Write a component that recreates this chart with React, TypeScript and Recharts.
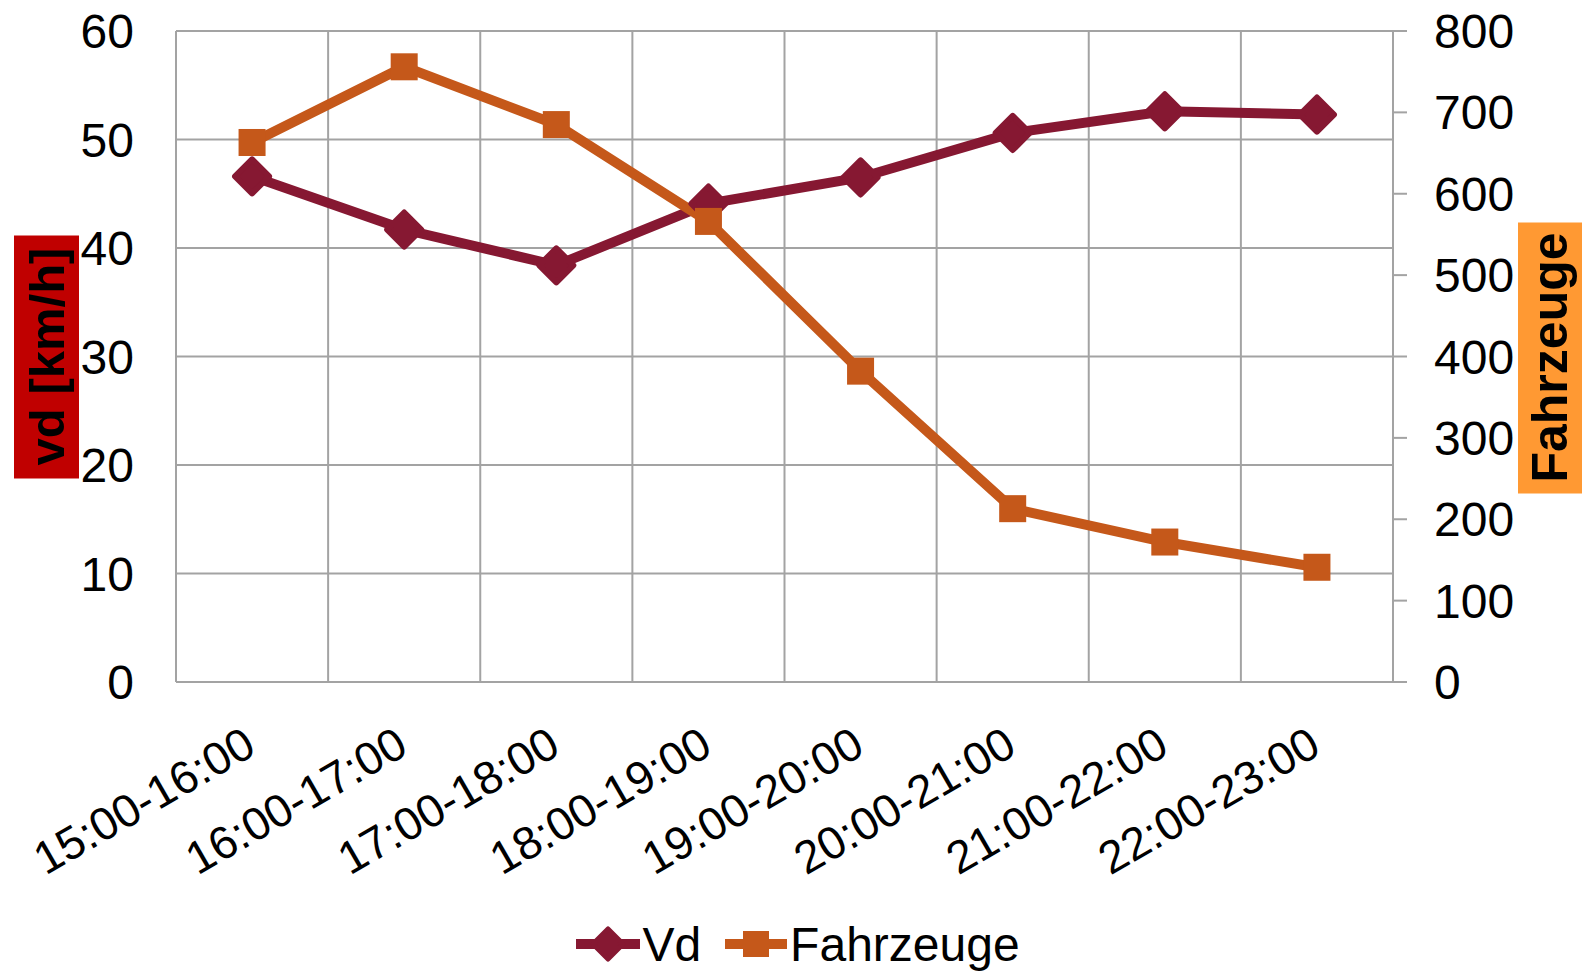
import { ComposedChart, Line, XAxis, YAxis, CartesianGrid, Legend } from "recharts";

const categories = ["15:00-16:00", "16:00-17:00", "17:00-18:00", "18:00-19:00", "19:00-20:00", "20:00-21:00", "21:00-22:00", "22:00-23:00"];
const vd = [46.6, 41.7, 38.4, 44.1, 46.5, 50.6, 52.6, 52.3];
const fahrzeuge = [663, 756, 685, 566, 382, 213, 172, 141];
const leftTicks = [0, 10, 20, 30, 40, 50, 60];
const rightTicks = [0, 100, 200, 300, 400, 500, 600, 700, 800];

const data = categories.map((c, i) => ({ cat: c, vd: vd[i], fahrzeuge: fahrzeuge[i] }));

const VD_COLOR = "#861832";
const FZ_COLOR = "#C5581A";
const GRID_COLOR = "#a3a3a3";
const FONT = "'Liberation Sans', Arial, sans-serif";
const TICK = { fill: "#000", fontSize: 48, fontFamily: FONT };

function diamondPath(cx: number, cy: number, r: number) {
  return `M${cx},${cy - r} L${cx + r},${cy} L${cx},${cy + r} L${cx - r},${cy} Z`;
}

function VdDot(p: any) {
  if (p.cx == null || p.cy == null) return <g />;
  return <path d={diamondPath(p.cx, p.cy, 17)} fill={VD_COLOR} stroke={VD_COLOR} strokeWidth={6} strokeLinejoin="round" />;
}

function FzDot(p: any) {
  if (p.cx == null || p.cy == null) return <g />;
  return <rect x={p.cx - 13.5} y={p.cy - 13.5} width={27} height={27} fill={FZ_COLOR} />;
}

function XTick({ x, y, payload }: any) {
  const ax = x + 6;
  const ay = y + 71;
  return (
    <text x={ax} y={ay} transform={`rotate(-30, ${ax}, ${ay})`} textAnchor="end" fill="#000" fontSize={46} fontFamily={FONT}>
      {payload.value}
    </text>
  );
}

function LeftLabel({ viewBox }: any) {
  const cx = viewBox.x + 46.5;
  const cy = viewBox.y + viewBox.height / 2;
  return (
    <g>
      <rect x={viewBox.x + 14} y={cy - 121} width={65} height={243} fill="#C00000" />
      <text x={cx} y={cy} transform={`rotate(-90, ${cx}, ${cy})`} textAnchor="middle" dominantBaseline="central" fontSize={49} fontWeight="bold" fontFamily={FONT} fill="#000">
        vd [km/h]
      </text>
    </g>
  );
}

function RightLabel({ viewBox }: any) {
  const cx = viewBox.x + 157;
  const cy = viewBox.y + viewBox.height / 2 + 1;
  return (
    <g>
      <rect x={viewBox.x + 125} y={cy - 135} width={64} height={271} fill="#FF9933" />
      <text x={cx} y={cy} transform={`rotate(-90, ${cx}, ${cy})`} textAnchor="middle" dominantBaseline="central" fontSize={50} fontWeight="bold" fontFamily={FONT} fill="#000">
        Fahrzeuge
      </text>
    </g>
  );
}

function LegendContent() {
  return (
    <div style={{ height: 60, display: "flex", alignItems: "center", justifyContent: "center", paddingLeft: 10, fontFamily: FONT, fontSize: 48, color: "#000" }}>
      <svg width={64} height={44} style={{ marginRight: 2 }}>
        <line x1={0} y1={22} x2={64} y2={22} stroke={VD_COLOR} strokeWidth={10} />
        <path d={diamondPath(32, 22, 15)} fill={VD_COLOR} stroke={VD_COLOR} strokeWidth={5} strokeLinejoin="round" />
      </svg>
      <span style={{ marginRight: 24 }}>Vd</span>
      <svg width={62} height={44} style={{ marginRight: 3 }}>
        <line x1={0} y1={22} x2={62} y2={22} stroke={FZ_COLOR} strokeWidth={10} />
        <rect x={18} y={9} width={26} height={26} fill={FZ_COLOR} />
      </svg>
      <span>Fahrzeuge</span>
    </div>
  );
}

export default function App() {
  return (
    <div style={{ position: "absolute", left: 0, top: 0, width: 1586, height: 974, background: "#fff" }}>
      <ComposedChart width={1586} height={974} data={data} margin={{ top: 31, right: 0, bottom: 0, left: 0 }}>
        <CartesianGrid
          yAxisId="left"
          stroke={GRID_COLOR}
          strokeWidth={2}
          verticalCoordinatesGenerator={({ offset }: any) =>
            categories.map((_, i) => offset.left + (i * offset.width) / categories.length).concat(offset.left + offset.width)
          }
        />
        <XAxis
          dataKey="cat"
          scale="band"
          height={232}
          interval={0}
          tickLine={false}
          tickSize={0}
          tickMargin={0}
          axisLine={{ stroke: GRID_COLOR, strokeWidth: 2 }}
          tick={<XTick />}
        />
        <YAxis
          yAxisId="left"
          orientation="left"
          width={176}
          domain={[0, 60]}
          ticks={leftTicks}
          tickLine={false}
          tickSize={0}
          tickMargin={42}
          axisLine={{ stroke: GRID_COLOR, strokeWidth: 2 }}
          tick={TICK}
          label={LeftLabel}
        />
        <YAxis
          yAxisId="right"
          orientation="right"
          width={193}
          domain={[0, 800]}
          ticks={rightTicks}
          tickSize={14}
          tickMargin={27}
          tickLine={{ stroke: GRID_COLOR, strokeWidth: 2 }}
          axisLine={{ stroke: GRID_COLOR, strokeWidth: 2 }}
          tick={{ ...TICK, textAnchor: "start" }}
          label={RightLabel}
        />
        <Legend verticalAlign="bottom" align="center" height={60} content={<LegendContent />} />
        <Line yAxisId="left" type="linear" dataKey="vd" name="Vd" stroke={VD_COLOR} strokeWidth={10} dot={VdDot} activeDot={false} isAnimationActive={false} />
        <Line yAxisId="right" type="linear" dataKey="fahrzeuge" name="Fahrzeuge" stroke={FZ_COLOR} strokeWidth={10} dot={FzDot} activeDot={false} isAnimationActive={false} />
      </ComposedChart>
    </div>
  );
}
